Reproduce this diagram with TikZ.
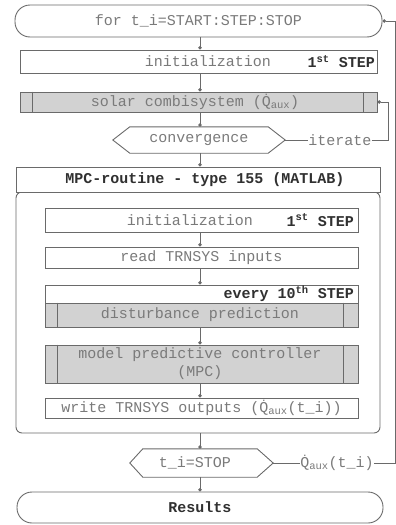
\documentclass[tikz,border=0pt]{standalone}
\usepackage{fontspec}
\setmonofont{Liberation Mono}
\usetikzlibrary{calc,arrows.meta}
\newcommand\Qaux{\.{Q}\textsubscript{aux}}
\definecolor{linec}{HTML}{6A6A6A}
\definecolor{txtc}{HTML}{7A7A7A}
\definecolor{boldc}{HTML}{303030}
\definecolor{fillc}{HTML}{D2D2D2}
\begin{document}
\begin{tikzpicture}[x=1pt,y=-1pt,
  every node/.style={font=\ttfamily\fontsize{15}{16}\selectfont, text=txtc, inner sep=0pt},
  box/.style={draw=linec, line width=0.9pt, fill=white},
  gbox/.style={draw=linec, line width=0.9pt, fill=fillc},
  boldtxt/.style={font=\ttfamily\bfseries\fontsize{15}{16}\selectfont, text=boldc},
  conn/.style={draw=linec, line width=0.9pt, -{Circle[length=3.5pt]}},
  plain/.style={draw=linec, line width=0.9pt}]
\useasboundingbox (0,0) rectangle (396,525);
\coordinate (ax) at (200,0);

% for loop
\node[box, rounded corners=15pt, minimum width=367, minimum height=32] (loop) at (198.5,21) {for t\_i=START:STEP:STOP};

% initialization
\node[box, minimum width=357, minimum height=23] (init1) at (198.5,61.5) {};
\node (init1t) at (208,61.5) {initialization};
\node[boldtxt, anchor=east] (init1s) at (375,61.5) {1\textsuperscript{st} STEP};

% solar combisystem
\node[gbox, minimum width=357, minimum height=20] (solar) at (198.5,102) {};
\draw[plain] ($(solar.north west)+(13,0)$) -- ($(solar.south west)+(13,0)$);
\draw[plain] ($(solar.north east)+(-14,0)$) -- ($(solar.south east)+(-14,0)$);
\node (solart) at (195,102) {solar combisystem (\Qaux)};

% convergence
\node[minimum width=172, minimum height=26] (conv) at (199,140) {convergence};
\draw[plain] (conv.west) -- ($(conv.north west)+(17,0)$) -- ($(conv.north east)+(-17,0)$) -- (conv.east)
  -- ($(conv.south east)+(-17,0)$) -- ($(conv.south west)+(17,0)$) -- cycle;
\node (itl) at (340,140) {iterate};
\coordinate (itc) at (388,140);
\draw[plain] (conv.east) -- (itl.west);
\draw[conn] (itl.east) -- (itc) |- (solar.east);

% container
\node[box, rounded corners=6pt, minimum width=364, minimum height=241] (cont) at (198,312.5) {};
% MPC routine
\node[box, minimum width=364, minimum height=25] (mpc) at (198,179.5) {};
\node[boldtxt] (mpct) at (205,179.5) {MPC-routine - type 155 (MATLAB)};

% inner initialization
\node[box, minimum width=313, minimum height=24] (init2) at (201.5,220) {};
\node (init2t) at (190,220) {initialization};
\node[boldtxt, anchor=east] (init2s) at (354,220) {1\textsuperscript{st} STEP};

% read inputs
\node[box, minimum width=313, minimum height=21] (read) at (201.5,257.5) {read TRNSYS inputs};

% every 10th step
\node[box, minimum width=313, minimum height=18] (every) at (201.5,294) {};
\node[boldtxt, anchor=east] (everyt) at (354,294) {every 10\textsuperscript{th} STEP};

% disturbance prediction
\node[gbox, minimum width=313, minimum height=24] (dist) at (201.5,315) {};
\draw[plain] ($(dist.north west)+(13,0)$) -- ($(dist.south west)+(13,0)$);
\draw[plain] ($(dist.north east)+(-15,0)$) -- ($(dist.south east)+(-15,0)$);
\node (distt) at (200,315) {disturbance prediction};

% MPC controller
\node[gbox, minimum width=313, minimum height=38] (mpcc) at (201.5,364) {};
\draw[plain] ($(mpcc.north west)+(13,0)$) -- ($(mpcc.south west)+(13,0)$);
\draw[plain] ($(mpcc.north east)+(-15,0)$) -- ($(mpcc.south east)+(-15,0)$);
\node[align=center, font=\ttfamily\fontsize{15}{18}\selectfont] (mpcct) at (200,364) {model predictive controller\\(MPC)};

% write outputs
\node[box, minimum width=313, minimum height=20] (write) at (201.5,408) {write TRNSYS outputs (\Qaux(t\_i))};

% stop
\node[minimum width=143, minimum height=28] (stop) at (201.5,463) {};
\draw[plain] (stop.west) -- ($(stop.north west)+(13,0)$) -- ($(stop.north east)+(-16,0)$) -- (stop.east)
  -- ($(stop.south east)+(-16,0)$) -- ($(stop.south west)+(13,0)$) -- cycle;
\node (stopt) at (195,463) {t\_i=STOP};
\node (ql) at (337,463) {\Qaux(t\_i)};
\coordinate (r1) at (395,463);
\coordinate (r2) at (395,21);
\draw[plain] (stop.east) -- (ql.west);
\draw[conn] (ql.east) -- (r1) -- (r2) -- (loop.east);

% results
\node[box, rounded corners=15pt, minimum width=366, minimum height=31] (res) at (200,507.5) {};
\node[boldtxt] (rest) at (200,507.5) {Results};

% main connectors
\draw[conn] (loop.south -| ax) -- (init1.north -| ax);
\draw[conn] (init1.south -| ax) -- (solar.north -| ax);
\draw[conn] (solar.south -| ax) -- (conv.north -| ax);
\draw[conn] (conv.south -| ax) -- (mpc.north -| ax);
\draw[conn] (init2.south -| ax) -- (read.north -| ax);
\draw[conn] (read.south -| ax) -- (every.north -| ax);
\draw[conn] (dist.south -| ax) -- (mpcc.north -| ax);
\draw[conn] (mpcc.south -| ax) -- (write.north -| ax);
\draw[conn] (cont.south -| ax) -- (stop.north -| ax);
\draw[conn] (stop.south -| ax) -- (res.north -| ax);
\end{tikzpicture}
\end{document}
